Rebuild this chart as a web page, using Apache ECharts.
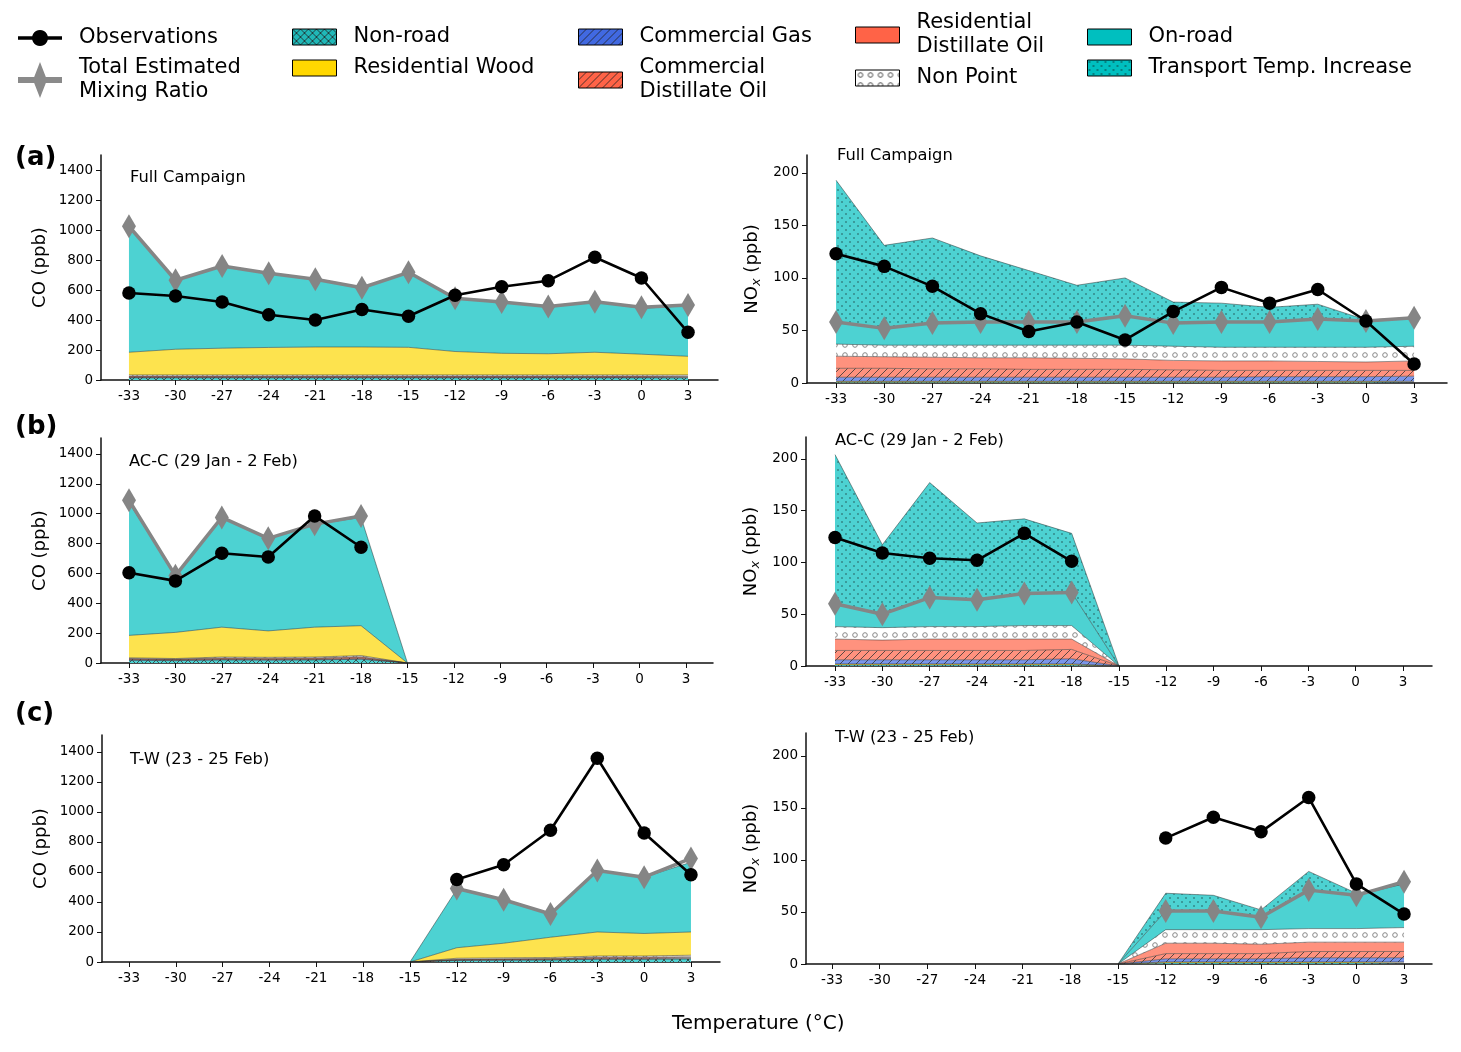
<!DOCTYPE html>
<html><head><meta charset="utf-8">
<script src="https://cdn.jsdelivr.net/npm/echarts@6/dist/echarts.min.js"></script>
<style>html,body{margin:0;padding:0;background:#fff}#c{width:1461px;height:1052px}</style>
</head><body><div id="c"></div>
<script>
// ---------------- DATA ----------------
const tempTicks = [-33,-30,-27,-24,-21,-18,-15,-12,-9,-6,-3,0,3];
const coTicks = [0,200,400,600,800,1000,1200,1400];
const noxTicks = [0,50,100,150,200];

const tempsFull = [-33,-30,-27,-24,-21,-18,-15,-12,-9,-6,-3,0,3];
const tempsACC  = [-33,-30,-27,-24,-21,-18,-15];
const tempsACCpts = [-33,-30,-27,-24,-21,-18];
const tempsTW   = [-15,-12,-9,-6,-3,0,3];
const tempsTWpts = [-12,-9,-6,-3,0,3];

// CO - Full Campaign
const coObsFull      = [580,560,520,435,400,470,425,565,622,662,818,680,318];
const coTotalFull    = [1025,665,760,712,672,615,718,545,520,490,522,485,500];
const coNonRoadFull  = [14,14,14,14,14,14,14,14,14,14,14,14,14];
const coCommGasFull  = [3,3,3,3,3,3,3,3,3,3,3,3,3];
const coCommDistFull = [5,5,5,5,5,5,5,5,5,5,5,5,5];
const coResDistFull  = [4,4,4,4,4,4,4,4,4,4,4,4,4];
const coNonPointFull = [8,8,8,8,8,8,8,8,8,8,8,8,8];
const coWoodFull     = [151,171,178,183,186,186,184,156,144,141,151,138,124];
const coOnRoadFull   = [840,460,548,495,452,395,500,355,342,315,337,306,337];

// CO - AC-C
const coObsACC      = [605,550,735,710,985,775];
const coTotalACC    = [1090,585,975,835,930,985];
const coNonRoadACC  = [18,16,20,19,20,25,0];
const coCommGasACC  = [3,3,3,3,3,4,0];
const coCommDistACC = [5,4,6,5,6,7,0];
const coResDistACC  = [4,3,5,5,5,6,0];
const coNonPointACC = [5,4,6,6,6,8,0];
const coWoodACC     = [150,175,200,177,200,200,0];
const coOnRoadACC   = [890,380,735,620,690,725,0];

// CO - T-W
const coObsTW      = [550,648,878,1358,860,582];
const coTotalTW    = [490,415,320,610,565,690];
const coNonRoadTW  = [0,10,12,13,18,18,20];
const coCommGasTW  = [0,2,2,2,3,3,3];
const coCommDistTW = [0,4,4,5,6,6,7];
const coResDistTW  = [0,3,3,3,5,5,5];
const coNonPointTW = [0,6,7,7,8,8,10];
const coWoodTW     = [0,70,97,135,160,150,155];
const coOnRoadTW   = [0,390,290,160,410,375,465];

// NOx - Full Campaign
const noxObsFull       = [123,111,92,66,49,58,41,68,91,76,89,59,18];
const noxTotalFull     = [58,52,57,58,58,58,64,57,58,58,61,59,62];
const noxNonRoadFull   = [0.8,0.8,0.8,0.8,0.8,0.8,0.8,0.8,0.8,0.8,0.8,0.8,0.8];
const noxWoodFull      = [0.8,0.8,0.8,0.8,0.8,0.8,0.8,0.8,0.8,0.8,0.8,0.8,0.8];
const noxCommGasFull   = [3.9,3.9,3.9,3.9,3.9,3.9,3.9,3.9,3.9,4.4,4.4,4.4,4.9];
const noxCommDistFull  = [8.5,8.5,8,8,7.5,7.5,7.5,7,6.5,6,6,6,5.5];
const noxResDistFull   = [11.5,11,11,10.5,11,10.5,10,9,9,9,8.5,8,9];
const noxNonPointFull  = [11.5,11,11.5,12,12,12.5,13,13.5,13,13,13.5,14,14];
const noxOnRoadFull    = [21,16,21,22,22,22,28,22,24,24,27,25,27];
const noxTransportFull = [135,79,81,63,49,35,36,20,18,14,14,1,0];

// NOx - AC-C
const noxObsACC       = [124,109,104,102,128,101];
const noxTotalACC     = [60,50,66,64,70,71];
const noxNonRoadACC   = [1,1,1,1,1,1,0];
const noxWoodACC      = [1,1,1,1,1,1,0];
const noxCommGasACC   = [4,4,4,4,4,5,0];
const noxCommDistACC  = [9,9,9,9,9,9,0];
const noxResDistACC   = [11,10,11,11,11,10,0];
const noxNonPointACC  = [12,12,12,12,13,13,0];
const noxOnRoadACC    = [22,13,28,26,31,32,0];
const noxTransportACC = [144,67,111,74,72,57,0];

// NOx - T-W
const noxObsTW       = [121,141,127,160,77,48];
const noxTotalTW     = [51,51,45,71,66,79];
const noxNonRoadTW   = [0,1,1,1,1,1,1];
const noxWoodTW      = [0,1,1,1,1,1,1];
const noxCommGasTW   = [0,3,3,3,4,4,4];
const noxCommDistTW  = [0,5,5,5,6,6,6];
const noxResDistTW   = [0,10,10,9,9,9,9];
const noxNonPointTW  = [0,13,13,14,13,13,14];
const noxOnRoadTW    = [0,18,18,12,37,32,42];
const noxTransportTW = [0,17,15,7,18,2,0];

const panelTitles = ['Full Campaign','Full Campaign','AC-C (29 Jan - 2 Feb)','AC-C (29 Jan - 2 Feb)','T-W (23 - 25 Feb)','T-W (23 - 25 Feb)'];

// ---------------- STYLE HELPERS ----------------
const FONT = 'DejaVu Sans';
function pattern(bg, kind, fg) {
  const s = kind === 'o' ? 10 : (kind === '.' ? 8 : 8);
  const c = document.createElement('canvas');
  c.width = s; c.height = s;
  const g = c.getContext('2d');
  g.fillStyle = bg; g.fillRect(0,0,s,s);
  g.strokeStyle = fg; g.fillStyle = fg; g.lineWidth = 0.8;
  if (kind === '/' || kind === 'x') {
    g.beginPath();
    g.moveTo(-1, s+1); g.lineTo(s+1, -1);
    g.moveTo(-1, 1); g.lineTo(1, -1);
    g.moveTo(s-1, s+1); g.lineTo(s+1, s-1);
    if (kind === 'x') {
      g.moveTo(-1,-1); g.lineTo(s+1,s+1);
      g.moveTo(s-1,-1); g.lineTo(s+1,1);
      g.moveTo(-1,s-1); g.lineTo(1,s+1);
    }
    g.stroke();
  } else if (kind === 'o') {
    g.lineWidth = 1;
    g.beginPath(); g.arc(5,5,2.3,0,Math.PI*2); g.stroke();
  } else if (kind === '.') {
    g.beginPath(); g.arc(2,2,0.7,0,Math.PI*2); g.fill();
    g.beginPath(); g.arc(6,6,0.7,0,Math.PI*2); g.fill();
  }
  return { image: c, repeat: 'repeat' };
}
const CYAN_A = '#4dd2d2', CYAN = '#00bfbf';
const fills = {
  'Non-road': pattern(CYAN_A, 'x', '#333'),
  'Residential Wood': '#fde34e',
  'Commercial Gas': pattern('#7a96ea', '/', '#333'),
  'Commercial Distillate Oil': pattern('#ff927e', '/', '#333'),
  'Residential Distillate Oil': '#ff927e',
  'Non Point': pattern('#ffffff', 'o', '#888'),
  'On-road': CYAN_A,
  'Transport Temp. Increase': pattern(CYAN_A, '.', '#1a3a3a')
};
const legendFills = {
  'Non-road': pattern('#20b8b8', 'x', '#222'),
  'Residential Wood': '#ffd700',
  'Commercial Gas': pattern('#4169e1', '/', '#222'),
  'Commercial Distillate Oil': pattern('#ff6347', '/', '#222'),
  'Residential Distillate Oil': '#ff6347',
  'Non Point': pattern('#ffffff', 'o', '#555'),
  'On-road': CYAN,
  'Transport Temp. Increase': pattern(CYAN, '.', '#111')
};

const G = [
  {left:101, top:155, width:617, height:225, xmin:-34.80, xmax:4.93, ymax:1500},
  {left:807, top:155, width:640, height:228, xmin:-34.81, xmax:5.05, ymax:217},
  {left:101, top:438, width:612, height:225, xmin:-34.81, xmax:4.75, ymax:1507},
  {left:806, top:437, width:626, height:229, xmin:-34.84, xmax:4.84, ymax:221},
  {left:102, top:735, width:618, height:227, xmin:-34.73, xmax:4.86, ymax:1513},
  {left:806, top:733, width:626, height:231, xmin:-34.64, xmax:4.76, ymax:222}
];

const panels = [
  {xs: tempsFull, px: tempsFull, obs: coObsFull, total: coTotalFull, layers: [
    ['Non-road', coNonRoadFull], ['Commercial Gas', coCommGasFull], ['Commercial Distillate Oil', coCommDistFull],
    ['Residential Distillate Oil', coResDistFull], ['Non Point', coNonPointFull], ['Residential Wood', coWoodFull], ['On-road', coOnRoadFull]]},
  {xs: tempsFull, px: tempsFull, obs: noxObsFull, total: noxTotalFull, layers: [
    ['Non-road', noxNonRoadFull], ['Residential Wood', noxWoodFull], ['Commercial Gas', noxCommGasFull],
    ['Commercial Distillate Oil', noxCommDistFull], ['Residential Distillate Oil', noxResDistFull], ['Non Point', noxNonPointFull],
    ['On-road', noxOnRoadFull], ['Transport Temp. Increase', noxTransportFull]]},
  {xs: tempsACC, px: tempsACCpts, obs: coObsACC, total: coTotalACC, layers: [
    ['Non-road', coNonRoadACC], ['Commercial Gas', coCommGasACC], ['Commercial Distillate Oil', coCommDistACC],
    ['Residential Distillate Oil', coResDistACC], ['Non Point', coNonPointACC], ['Residential Wood', coWoodACC], ['On-road', coOnRoadACC]]},
  {xs: tempsACC, px: tempsACCpts, obs: noxObsACC, total: noxTotalACC, layers: [
    ['Non-road', noxNonRoadACC], ['Residential Wood', noxWoodACC], ['Commercial Gas', noxCommGasACC],
    ['Commercial Distillate Oil', noxCommDistACC], ['Residential Distillate Oil', noxResDistACC], ['Non Point', noxNonPointACC],
    ['On-road', noxOnRoadACC], ['Transport Temp. Increase', noxTransportACC]]},
  {xs: tempsTW, px: tempsTWpts, obs: coObsTW, total: coTotalTW, layers: [
    ['Non-road', coNonRoadTW], ['Commercial Gas', coCommGasTW], ['Commercial Distillate Oil', coCommDistTW],
    ['Residential Distillate Oil', coResDistTW], ['Non Point', coNonPointTW], ['Residential Wood', coWoodTW], ['On-road', coOnRoadTW]]},
  {xs: tempsTW, px: tempsTWpts, obs: noxObsTW, total: noxTotalTW, layers: [
    ['Non-road', noxNonRoadTW], ['Residential Wood', noxWoodTW], ['Commercial Gas', noxCommGasTW],
    ['Commercial Distillate Oil', noxCommDistTW], ['Residential Distillate Oil', noxResDistTW], ['Non Point', noxNonPointTW],
    ['On-road', noxOnRoadTW], ['Transport Temp. Increase', noxTransportTW]]}
];

const grids = [], xAxes = [], yAxes = [], series = [];
G.forEach((g, i) => {
  const isCO = i % 2 === 0;
  grids.push({left: g.left, top: g.top, width: g.width, height: g.height, containLabel: false, outerBoundsMode: 'none'});
  xAxes.push({
    type: 'value', gridIndex: i, min: g.xmin, max: g.xmax, interval: 3,
    axisLine: {show: true, onZero: false, lineStyle: {color: '#111', width: 1.5}},
    axisTick: {show: true, length: 5, customValues: tempTicks, lineStyle: {color: '#111', width: 1}},
    axisLabel: {customValues: tempTicks, fontFamily: FONT, fontSize: 13.5, color: '#000', margin: 9, formatter: v => String(v)},
    splitLine: {show: false}
  });
  const ticks = isCO ? coTicks : noxTicks;
  yAxes.push({
    type: 'value', gridIndex: i, min: 0, max: g.ymax, interval: isCO ? 200 : 50,
    axisLine: {show: true, onZero: false, lineStyle: {color: '#111', width: 1.5}},
    axisTick: {show: true, length: 5, customValues: ticks, lineStyle: {color: '#111', width: 1}},
    axisLabel: {customValues: ticks, fontFamily: FONT, fontSize: 13.5, color: '#000', margin: 8, formatter: v => String(v)},
    splitLine: {show: false},
    name: isCO ? 'CO (ppb)' : '{n|NO}{s|x}{n| (ppb)}',
    nameLocation: 'middle', nameGap: isCO ? 52 : 44,
    nameTextStyle: {fontFamily: FONT, fontSize: 18, color: '#000',
      rich: {n: {fontFamily: FONT, fontSize: 18, color: '#000', verticalAlign: 'top', lineHeight: 20},
             s: {fontFamily: FONT, fontSize: 13, fontStyle: 'italic', color: '#000', verticalAlign: 'bottom', lineHeight: 13, padding: [10,0,0,0]}}}
  });
  const p = panels[i];
  // data stored as [value, temperature] so that the stacked dimension is the value (y)
  p.layers.forEach(([name, vals]) => {
    series.push({
      type: 'line', name, xAxisIndex: i, yAxisIndex: i, stack: 'S' + i,
      dimensions: ['v', 't'], encode: {x: 't', y: 'v'},
      data: p.xs.map((x, k) => [vals[k], x]),
      symbol: 'none', silent: true, z: 2,
      lineStyle: {width: 0.8, color: 'rgba(40,40,40,0.6)'},
      itemStyle: {color: typeof legendFills[name] === 'string' ? legendFills[name] : '#888'},
      areaStyle: {color: fills[name], opacity: 1},
      emphasis: {disabled: true}
    });
  });
  series.push({
    type: 'line', name: 'Total Estimated Mixing Ratio', xAxisIndex: i, yAxisIndex: i,
    data: p.px.map((x, k) => [x, p.total[k]]),
    symbol: 'diamond', symbolSize: [14, 24], z: 3,
    lineStyle: {width: 3.5, color: '#858585'}, itemStyle: {color: '#858585'},
    emphasis: {disabled: true}
  });
  series.push({
    type: 'line', name: 'Observations', xAxisIndex: i, yAxisIndex: i,
    data: p.px.map((x, k) => [x, p.obs[k]]),
    symbol: 'circle', symbolSize: 13.5, z: 4,
    lineStyle: {width: 2.6, color: '#000'}, itemStyle: {color: '#000'},
    emphasis: {disabled: true}
  });
});

// legend icons (paths)
function circlePath(cx, cy, r) {
  let d = '';
  for (let k = 0; k <= 24; k++) {
    const a = k / 24 * Math.PI * 2;
    d += (k === 0 ? 'M' : 'L') + (cx + r * Math.cos(a)).toFixed(2) + ',' + (cy + r * Math.sin(a)).toFixed(2);
  }
  return d + 'Z';
}
const obsIcon = 'path://M0,8.3L44,8.3L44,11.7L0,11.7Z' + circlePath(22, 10, 8);
const totIcon = 'path://M0,15L44,15L44,21L0,21Z M22,0L29,18L22,36L15,18Z';

const legendLabels = {
  'Observations': 'Observations',
  'Total Estimated Mixing Ratio': 'Total Estimated\nMixing Ratio',
  'Non-road': 'Non-road', 'Residential Wood': 'Residential Wood',
  'Commercial Gas': 'Commercial Gas', 'Commercial Distillate Oil': 'Commercial\nDistillate Oil',
  'Residential Distillate Oil': 'Residential\nDistillate Oil', 'Non Point': 'Non Point',
  'On-road': 'On-road', 'Transport Temp. Increase': 'Transport Temp. Increase'
};
const legendPos = [
  ['Observations', 18, 26, 44, 20],
  ['Total Estimated Mixing Ratio', 18, 56, 44, 36],
  ['Non-road', 292, 25, 44, 16],
  ['Residential Wood', 292, 56, 44, 16],
  ['Commercial Gas', 578, 25, 44, 16],
  ['Commercial Distillate Oil', 578, 56, 44, 16],
  ['Residential Distillate Oil', 855, 11, 44, 16],
  ['Non Point', 855, 66, 44, 16],
  ['On-road', 1087, 25, 44, 16],
  ['Transport Temp. Increase', 1087, 56, 44, 16]
];
const legends = legendPos.map(([name, l, t, w, h]) => {
  let item;
  if (name === 'Observations') item = {name, icon: obsIcon, itemStyle: {color: '#000', borderWidth: 0}};
  else if (name === 'Total Estimated Mixing Ratio') item = {name, icon: totIcon, itemStyle: {color: '#8a8a8a', borderWidth: 0}};
  else item = {name, icon: 'rect', itemStyle: {color: legendFills[name], borderColor: '#000', borderWidth: 1}};
  return {
    left: l, top: t, padding: 0, itemWidth: w, itemHeight: h, orient: 'vertical',
    selectedMode: false, data: [item],
    formatter: n => legendLabels[n],
    textStyle: {fontFamily: FONT, fontSize: 21, color: '#000', lineHeight: 24, padding: [0, 0, 0, 12]}
  };
});

const titles = [
  {text: '(a)', left: 15, top: 145, textStyle: {fontFamily: FONT, fontSize: 26, fontWeight: 'bold', color: '#000'}},
  {text: '(b)', left: 15, top: 414, textStyle: {fontFamily: FONT, fontSize: 26, fontWeight: 'bold', color: '#000'}},
  {text: '(c)', left: 15, top: 701, textStyle: {fontFamily: FONT, fontSize: 26, fontWeight: 'bold', color: '#000'}},
  {text: 'Temperature (°C)', left: 672, top: 1014, textStyle: {fontFamily: FONT, fontSize: 20, fontWeight: 'normal', color: '#000'}}
];
const ptPos = [[130,170],[837,148],[129,454],[835,433],[130,752],[835,730]];
ptPos.forEach(([l, t], i) => titles.push({text: panelTitles[i], left: l, top: t,
  textStyle: {fontFamily: FONT, fontSize: 16.3, fontWeight: 'normal', color: '#000'}}));
titles.forEach(t => t.padding = 0);

const chart = echarts.init(document.getElementById('c'), null, {renderer: 'canvas'});
chart.setOption({
  backgroundColor: '#fff', animation: false,
  title: titles, legend: legends,
  grid: grids, xAxis: xAxes, yAxis: yAxes, series
});
</script></body></html>
